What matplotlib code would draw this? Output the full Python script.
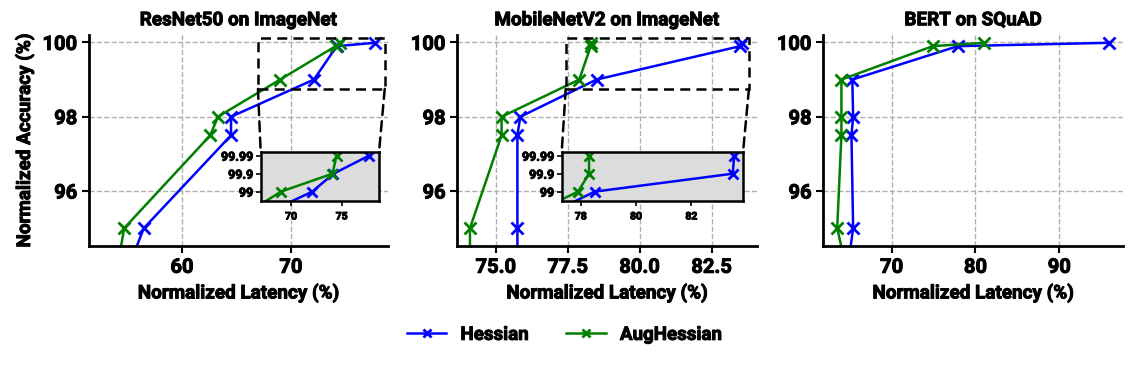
import numpy as np
import matplotlib
matplotlib.use('Agg')
import matplotlib.pyplot as plt
import matplotlib.patheffects as pe
from matplotlib.patches import Rectangle, ConnectionPatch

plt.rcParams['font.family'] = ['Roboto', 'DejaVu Sans']
plt.rcParams['font.weight'] = 'bold'

# ---- data (normalized latency %, normalized accuracy %) ----
acc = [93.5, 95, 97.5, 98, 99, 99.9, 99.99]

resnet_hess = [54.5, 56.5, 64.5, 64.5, 72.1, 74.2, 77.7]
resnet_aug = [53.8, 54.7, 62.6, 63.3, 69.0, 74.1, 74.5]

mobile_hess = [75.75, 75.75, 75.75, 75.85, 78.5, 83.5, 83.55]
mobile_aug = [74.1, 74.1, 75.2, 75.2, 77.9, 78.3, 78.3]

bert_hess = [64.5, 65.4, 65.2, 65.4, 65.3, 77.9, 95.9]
bert_aug = [65.0, 63.5, 64.0, 64.0, 64.0, 74.9, 81.0]

titles = ['ResNet50 on ImageNet', 'MobileNetV2 on ImageNet', 'BERT on SQuAD']
labels = ['Hessian', 'AugHessian']
colors = ['blue', 'green']

# piecewise mapping used by the zoomed insets (99 -> 99.9 -> 99.99 evenly spaced)
lvl_in = [80, 98, 99, 99.9, 99.99, 100]
lvl_out = [-38, -2, 0, 1, 2, 3]


def fwd(y):
    return np.interp(y, lvl_in, lvl_out)


def inv(t):
    return np.interp(t, lvl_out, lvl_in)


fig = plt.figure(figsize=(11.36, 3.66), dpi=100)
lefts = [89, 457.3, 823.3]
rights = [388, 756.7, 1123]
xlims = [(51.47, 78.9), (73.66, 84.07), (61.84, 97.6)]
xticks = [[60, 70], [75.0, 77.5, 80.0, 82.5], [70, 80, 90]]
series = [(resnet_hess, resnet_aug), (mobile_hess, mobile_aug), (bert_hess, bert_aug)]

axes = []
for i in range(3):
    ax = fig.add_axes([lefts[i] / 1136, 1 - 246 / 366, (rights[i] - lefts[i]) / 1136, 211 / 366])
    for s, c, lab in zip(series[i], colors, labels):
        ax.plot(s, acc, color=c, marker='x', ms=8, mew=2, lw=1.8, label=lab)
    ax.set_xlim(*xlims[i])
    ax.set_ylim(94.52, 100.2)
    ax.set_xticks(xticks[i])
    if i == 1:
        ax.set_xticklabels(['75.0', '77.5', '80.0', '82.5'])
    ax.set_yticks([96, 98, 100])
    ax.grid(True, ls='--', color='#b0b0b0', lw=1)
    ax.set_axisbelow(True)
    for sp in ['top', 'right']:
        ax.spines[sp].set_visible(False)
    for sp in ['left', 'bottom']:
        ax.spines[sp].set_linewidth(2)
    ax.tick_params(labelsize=14.5, width=1.5, length=5)
    ax.set_title(titles[i], fontsize=13.6, fontweight='bold', pad=7)
    ax.set_xlabel('Normalized Latency (%)', fontsize=13.6, fontweight='bold', labelpad=5)
    axes.append(ax)

axes[0].set_ylabel('Normalized Accuracy (%)', fontsize=13.6, fontweight='bold', labelpad=6)

# ---- zoom insets ----
inset_px = [(260.7, 379), (561.7, 743)]
inset_xlim = [(67.0, 78.7), (77.31, 83.87)]
inset_xticks = [[70, 75], [78, 80, 82]]
box_x = [(66.97, 78.6), (77.43, 83.8)]
box_y = (98.75, 100.12)
for i in range(2):
    ax = axes[i]
    x0, x1 = inset_px[i]
    ins = fig.add_axes([x0 / 1136, 1 - 201 / 366, (x1 - x0) / 1136, 48.7 / 366])
    ins.set_facecolor('#dcdcdc')
    for s, c in zip(series[i], colors):
        ins.plot(s, acc, color=c, marker='x', ms=7, mew=2, lw=1.8)
    ins.set_yscale('function', functions=(fwd, inv))
    ins.set_xlim(*inset_xlim[i])
    ins.set_ylim(inv(-0.52), inv(2.19))
    ins.set_yticks([99, 99.9, 99.99])
    ins.set_yticklabels(['99', '99.9', '99.99'])
    ins.set_xticks(inset_xticks[i])
    ins.tick_params(axis='y', labelsize=9, width=1.2, length=3.5, pad=2)
    ins.tick_params(axis='x', labelsize=7.5, width=1.2, length=3.5, pad=4)
    ins.yaxis.set_minor_locator(matplotlib.ticker.NullLocator())
    for sp in ins.spines.values():
        sp.set_linewidth(1.8)

    bx0, bx1 = box_x[i]
    ax.add_patch(Rectangle((bx0, box_y[0]), bx1 - bx0, box_y[1] - box_y[0], fill=False,
                           ec='black', lw=1.8, ls=(0, (4, 2.5)), clip_on=False, zorder=5))
    for xa, xb in [(bx0, 0), (bx1, 1)]:
        con = ConnectionPatch(xyA=(xa, box_y[0]), coordsA='data', axesA=ax,
                              xyB=(xb, 1), coordsB='axes fraction', axesB=ins,
                              color='black', lw=1.8, ls=(0, (4, 2.5)))
        fig.add_artist(con)

handles, labs = axes[0].get_legend_handles_labels()
fig.legend(handles, labs, loc='center', bbox_to_anchor=(0.497, 0.085), ncol=2, frameon=False,
           fontsize=13.5, handlelength=2.1, handletextpad=0.75, columnspacing=2.0, markerscale=0.8)

# heavier text, like the reference
fig.canvas.draw()
for t in fig.findobj(matplotlib.text.Text):
    if t.get_text():
        t.set_path_effects([pe.withStroke(linewidth=0.7, foreground='black')])

fig.savefig('out.png', dpi=100)
